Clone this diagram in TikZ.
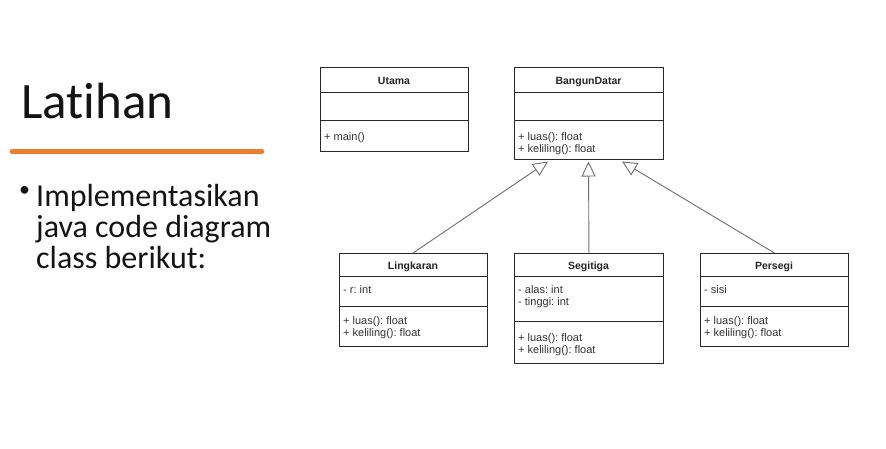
\documentclass[tikz,border=0pt]{standalone}
\usepackage{fontspec}
\setmainfont{Liberation Sans}
\newfontfamily\slidefont[Ligatures={NoCommon}]{Carlito}
\usetikzlibrary{arrows.meta}
\frenchspacing
\definecolor{boxline}{RGB}{40,40,40}
\definecolor{edgeline}{RGB}{110,110,110}
\definecolor{accentorange}{RGB}{237,125,49}
\definecolor{slidetext}{RGB}{20,20,20}
\tikzset{
  classbox/.style={draw=boxline, line width=0.9pt, fill=white},
  sepline/.style={draw=boxline, line width=0.9pt},
  ctitle/.style={anchor=base, inner sep=0pt, font=\fontsize{10.5}{12}\selectfont\bfseries, text=black!85},
  cline/.style={anchor=base west, inner sep=0pt, font=\fontsize{11}{12}\selectfont, text=black!80},
  inherit/.style={draw=edgeline, line width=0.9pt, -{Triangle[open, length=15pt, width=14pt, fill=white]}},
  slide/.style={anchor=base west, inner sep=0pt, text=slidetext},
}
\begin{document}
\begin{tikzpicture}[x=1pt, y=-1pt]
\useasboundingbox[fill=white] (0,0) rectangle (886,448);

% left slide text
\node[slide, font=\slidefont\fontsize{51}{56}\selectfont] (title) at (21,118) {Latihan};
\draw[accentorange, line width=4.5pt, line cap=round] (12,151.5) -- (262,151.5);
\node[slide, font=\slidefont\fontsize{22}{24}\selectfont] (bul) at (19,196) {•};
\node[slide, font=\slidefont\fontsize{32}{34}\selectfont] (b1) at (36,206) {Implementasikan};
\node[slide, font=\slidefont\fontsize{32}{34}\selectfont] (b2) at (36,237) {java code diagram};
\node[slide, font=\slidefont\fontsize{32}{34}\selectfont] (b3) at (36,268) {class berikut:};

% Utama
\node[classbox, minimum width=148pt, minimum height=84pt, anchor=north west, inner sep=0pt] (utama) at (320,67) {};
\draw[sepline] (320,92) -- (468,92);
\draw[sepline] (320,120) -- (468,120);
\node[ctitle] (utamaT) at (394,84) {Utama};
\node[cline] (utamaM1) at (324,140) {+ main()};

% BangunDatar
\node[classbox, minimum width=149pt, minimum height=92pt, anchor=north west, inner sep=0pt] (bd) at (514,67) {};
\draw[sepline] (514,92) -- (663,92);
\draw[sepline] (514,120) -- (663,120);
\node[ctitle] (bdT) at (588.5,84) {BangunDatar};
\node[cline] (bdM1) at (518,140) {+ luas(): float};
\node[cline] (bdM2) at (518,152) {+ keliling(): float};

% Lingkaran
\node[classbox, minimum width=148pt, minimum height=93pt, anchor=north west, inner sep=0pt] (ling) at (339,253) {};
\draw[sepline] (339,276) -- (487,276);
\draw[sepline] (339,306) -- (487,306);
\node[ctitle] (lingT) at (413,269.5) {Lingkaran};
\node[cline] (lingA1) at (343,293) {- r: int};
\node[cline] (lingM1) at (343,324) {+ luas(): float};
\node[cline] (lingM2) at (343,336) {+ keliling(): float};

% Segitiga
\node[classbox, minimum width=149pt, minimum height=110pt, anchor=north west, inner sep=0pt] (seg) at (514,253) {};
\draw[sepline] (514,276) -- (663,276);
\draw[sepline] (514,321) -- (663,321);
\node[ctitle] (segT) at (588.5,269.5) {Segitiga};
\node[cline] (segA1) at (518,293) {- alas: int};
\node[cline] (segA2) at (518,305) {- tinggi: int};
\node[cline] (segM1) at (518,341) {+ luas(): float};
\node[cline] (segM2) at (518,353) {+ keliling(): float};

% Persegi
\node[classbox, minimum width=148pt, minimum height=93pt, anchor=north west, inner sep=0pt] (per) at (700,253) {};
\draw[sepline] (700,276) -- (848,276);
\draw[sepline] (700,306) -- (848,306);
\node[ctitle] (perT) at (774,269.5) {Persegi};
\node[cline] (perA1) at (704,293) {- sisi};
\node[cline] (perM1) at (704,324) {+ luas(): float};
\node[cline] (perM2) at (704,336) {+ keliling(): float};

% inheritance connectors
\coordinate (bdL) at (548,161.5);
\coordinate (bdC) at (588.5,161.5);
\coordinate (bdR) at (622,161.5);
\draw[inherit] (ling.north -| 413,0) -- (bdL);
\draw[inherit] (seg.north) -- (bdC);
\draw[inherit] (per.north) -- (bdR);
\end{tikzpicture}
\end{document}
